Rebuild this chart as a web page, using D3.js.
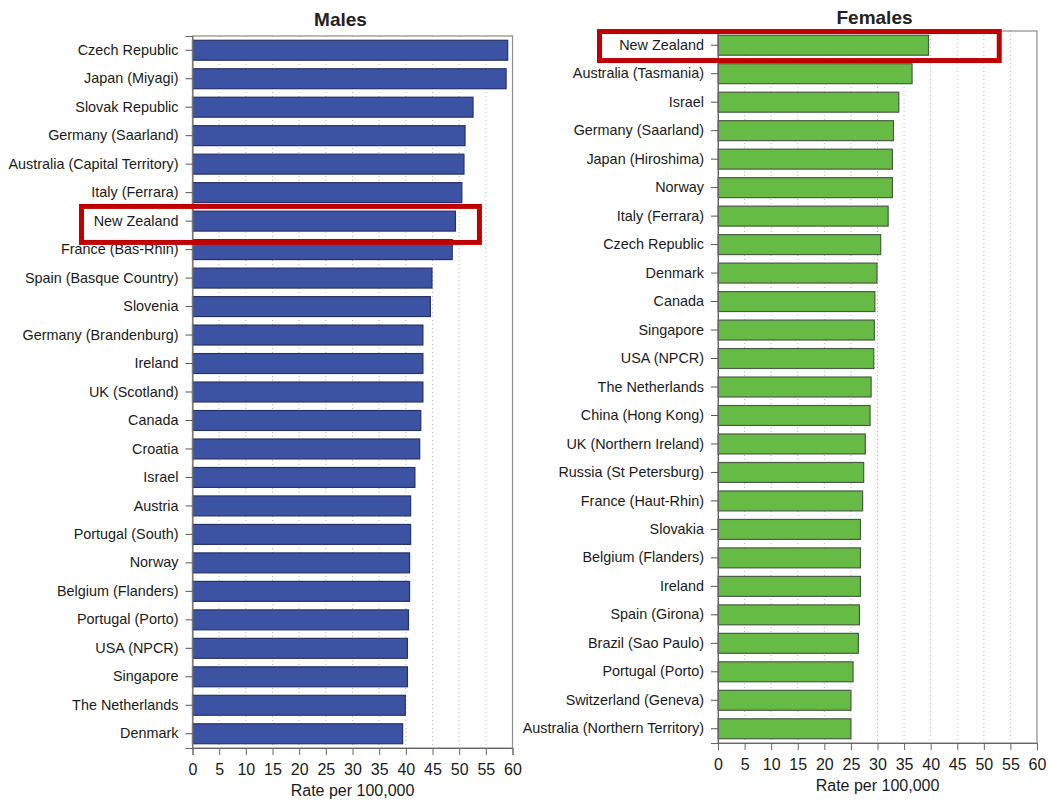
<!DOCTYPE html>
<html>
<head>
<meta charset="utf-8">
<script src="https://cdn.jsdelivr.net/npm/d3@7"></script>
<style>
  body { margin: 0; background: #fff; }
  svg { font-family: "Liberation Sans", Arial, sans-serif; }
</style>
</head>
<body>
<div id="container"></div>
<script>
/* DATA */
const maleNames = ["Czech Republic", "Japan (Miyagi)", "Slovak Republic", "Germany (Saarland)",
  "Australia (Capital Territory)", "Italy (Ferrara)", "New Zealand", "France (Bas-Rhin)",
  "Spain (Basque Country)", "Slovenia", "Germany (Brandenburg)", "Ireland", "UK (Scotland)",
  "Canada", "Croatia", "Israel", "Austria", "Portugal (South)", "Norway", "Belgium (Flanders)",
  "Portugal (Porto)", "USA (NPCR)", "Singapore", "The Netherlands", "Denmark"];
const maleRates = [59.1, 58.8, 52.6, 51.1, 50.9, 50.5, 49.3, 48.7, 44.9, 44.6, 43.2, 43.2, 43.2,
  42.8, 42.6, 41.7, 40.9, 40.9, 40.7, 40.7, 40.5, 40.3, 40.3, 39.9, 39.4];

const femaleNames = ["New Zealand", "Australia (Tasmania)", "Israel", "Germany (Saarland)",
  "Japan (Hiroshima)", "Norway", "Italy (Ferrara)", "Czech Republic", "Denmark", "Canada",
  "Singapore", "USA (NPCR)", "The Netherlands", "China (Hong Kong)", "UK (Northern Ireland)",
  "Russia (St Petersburg)", "France (Haut-Rhin)", "Slovakia", "Belgium (Flanders)", "Ireland",
  "Spain (Girona)", "Brazil (Sao Paulo)", "Portugal (Porto)", "Switzerland (Geneva)",
  "Australia (Northern Territory)"];
const femaleRates = [39.6, 36.5, 34.0, 33.0, 32.8, 32.8, 32.0, 30.6, 29.9, 29.5, 29.4, 29.3,
  28.8, 28.6, 27.7, 27.4, 27.2, 26.8, 26.8, 26.8, 26.6, 26.4, 25.4, 25.0, 25.0];

const xTicks = [0, 5, 10, 15, 20, 25, 30, 35, 40, 45, 50, 55, 60];
const highlight = "New Zealand";
const axisLabel = "Rate per 100,000";

/* LAYOUT */
const width = 1048, height = 800;

const panels = [
  { title: "Males", names: maleNames, rates: maleRates,
    left: 192.5, right: 512.5, top: 36, bottom: 748,
    fill: "#3c52a3", stroke: "#28306a", titleX: -12, titleY: -10,
    box: { left: -111, value: 53.8, top: -14.7, bottom: 21.3 } },
  { title: "Females", names: femaleNames, rates: femaleRates,
    left: 718, right: 1037, top: 31, bottom: 743,
    fill: "#66bb44", stroke: "#4a5a44", titleX: -3, titleY: -7,
    box: { left: -118.5, value: 52.9, top: -13.7, bottom: 15.3 } }
];

const svg = d3.select("#container")
  .append("svg")
  .attr("width", width)
  .attr("height", height);

panels.forEach(p => drawPanel(p));

function drawPanel(p) {
  const data = p.names.map((n, i) => ({ name: n, rate: p.rates[i] }));

  const xScale = d3.scaleLinear()
    .domain([0, 60])
    .range([p.left, p.right]);

  const yScale = d3.scaleBand()
    .domain(p.names)
    .range([p.top, p.bottom])
    .paddingInner(0.3)
    .paddingOuter(0.15);

  const g = svg.append("g");

  // dotted grid lines
  g.selectAll(".grid")
    .data(xTicks.filter(d => d > 0 && d < 60))
    .join("line")
    .attr("class", "grid")
    .attr("x1", d => xScale(d))
    .attr("x2", d => xScale(d))
    .attr("y1", p.top)
    .attr("y2", p.bottom)
    .attr("stroke", "#b8b8b8")
    .attr("stroke-width", 1)
    .attr("stroke-dasharray", "1,3");

  // bars
  g.selectAll(".bar")
    .data(data)
    .join("rect")
    .attr("class", "bar")
    .attr("x", xScale(0))
    .attr("y", d => yScale(d.name))
    .attr("width", d => xScale(d.rate) - xScale(0))
    .attr("height", yScale.bandwidth())
    .attr("fill", p.fill)
    .attr("stroke", p.stroke)
    .attr("stroke-width", 1.2);

  // frame
  g.append("rect")
    .attr("x", p.left)
    .attr("y", p.top)
    .attr("width", p.right - p.left)
    .attr("height", p.bottom - p.top)
    .attr("fill", "none")
    .attr("stroke", "#8c8c8c")
    .attr("stroke-width", 1.2);

  // y axis
  const yAxis = g.append("g")
    .attr("transform", `translate(${p.left},0)`)
    .call(d3.axisLeft(yScale).tickSize(7).tickPadding(7));
  yAxis.select(".domain").attr("stroke", "#666");
  yAxis.selectAll(".tick line").attr("stroke", "#555");
  yAxis.selectAll(".tick text")
    .attr("fill", "#1a1a1a")
    .style("font-size", "14.4px");

  // x axis
  const xAxis = g.append("g")
    .attr("transform", `translate(0,${p.bottom})`)
    .call(d3.axisBottom(xScale).tickValues(xTicks).tickSize(7).tickPadding(9));
  xAxis.select(".domain").attr("stroke", "#666");
  xAxis.selectAll(".tick line").attr("stroke", "#666");
  xAxis.selectAll(".tick text")
    .attr("fill", "#1a1a1a")
    .style("font-size", "16px");

  // axis label
  g.append("text")
    .attr("x", (p.left + p.right) / 2)
    .attr("y", p.bottom + 48)
    .attr("text-anchor", "middle")
    .attr("fill", "#1a1a1a")
    .style("font-size", "16px")
    .text(axisLabel);

  // title
  g.append("text")
    .attr("x", (p.left + p.right) / 2 + p.titleX)
    .attr("y", p.top + p.titleY)
    .attr("text-anchor", "middle")
    .attr("fill", "#222")
    .style("font-size", "19px")
    .style("font-weight", "bold")
    .text(p.title);

  // highlight box
  const cy = yScale(highlight) + yScale.bandwidth() / 2;
  g.append("rect")
    .attr("x", p.left + p.box.left)
    .attr("y", cy + p.box.top)
    .attr("width", xScale(p.box.value) - (p.left + p.box.left))
    .attr("height", p.box.bottom - p.box.top)
    .attr("fill", "none")
    .attr("stroke", "#c00000")
    .attr("stroke-width", 5);
}
</script>
</body>
</html>
